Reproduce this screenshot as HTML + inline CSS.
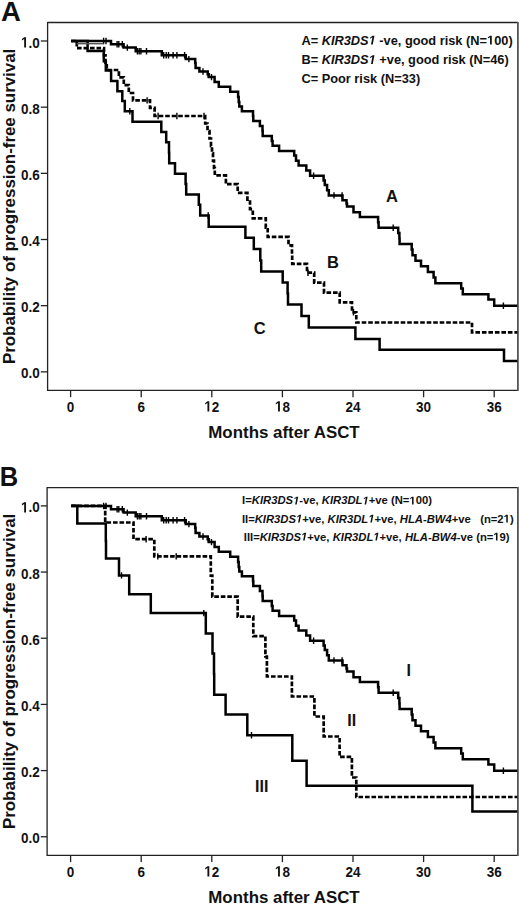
<!DOCTYPE html>
<html><head><meta charset="utf-8"><style>
html,body{margin:0;padding:0;background:#fff;}
svg{display:block;}
text{font-family:"Liberation Sans",sans-serif;fill:#111;}
.tl{font-size:13.5px;font-weight:bold;}
.ax{font-size:16.9px;font-weight:bold;}
.pl{font-size:27.5px;font-weight:bold;}
.lgA{font-size:12.8px;font-weight:bold;}
.lgB{font-size:11.25px;font-weight:bold;}
.cl{font-size:16.5px;font-weight:bold;}
.cl2{font-size:16px;font-weight:bold;}
.one{fill-opacity:0;}
</style></head><body>
<svg width="520" height="904" viewBox="0 0 520 904">
<path d="M47.6 22.5H517.9M47.6 390.4H517.9M47.6 21.9V391.0" stroke="#222" stroke-width="1.3" fill="none"/>
<path d="M517.9 21.9V391.0" stroke="#555" stroke-width="1.8" fill="none"/>
<line x1="40.8" y1="41.00" x2="47.6" y2="41.00" stroke="#222" stroke-width="1.3"/>
<text transform="translate(39.8,47.50) scale(1,1.1)" text-anchor="end" class="tl"><tspan class="one">1</tspan>.0</text>
<line x1="40.8" y1="107.17" x2="47.6" y2="107.17" stroke="#222" stroke-width="1.3"/>
<text transform="translate(39.8,113.67) scale(1,1.1)" text-anchor="end" class="tl">0.8</text>
<line x1="40.8" y1="173.34" x2="47.6" y2="173.34" stroke="#222" stroke-width="1.3"/>
<text transform="translate(39.8,179.84) scale(1,1.1)" text-anchor="end" class="tl">0.6</text>
<line x1="40.8" y1="239.51" x2="47.6" y2="239.51" stroke="#222" stroke-width="1.3"/>
<text transform="translate(39.8,246.01) scale(1,1.1)" text-anchor="end" class="tl">0.4</text>
<line x1="40.8" y1="305.68" x2="47.6" y2="305.68" stroke="#222" stroke-width="1.3"/>
<text transform="translate(39.8,312.18) scale(1,1.1)" text-anchor="end" class="tl">0.2</text>
<line x1="40.8" y1="371.85" x2="47.6" y2="371.85" stroke="#222" stroke-width="1.3"/>
<text transform="translate(39.8,378.35) scale(1,1.1)" text-anchor="end" class="tl">0.0</text>
<line x1="70.60" y1="390.4" x2="70.60" y2="397.2" stroke="#222" stroke-width="1.3"/>
<text transform="translate(70.60,411.5) scale(1,1.1)" text-anchor="middle" class="tl">0</text>
<line x1="141.20" y1="390.4" x2="141.20" y2="397.2" stroke="#222" stroke-width="1.3"/>
<text transform="translate(141.20,411.5) scale(1,1.1)" text-anchor="middle" class="tl">6</text>
<line x1="211.80" y1="390.4" x2="211.80" y2="397.2" stroke="#222" stroke-width="1.3"/>
<text transform="translate(211.80,411.5) scale(1,1.1)" text-anchor="middle" class="tl"><tspan class="one">1</tspan>2</text>
<line x1="282.40" y1="390.4" x2="282.40" y2="397.2" stroke="#222" stroke-width="1.3"/>
<text transform="translate(282.40,411.5) scale(1,1.1)" text-anchor="middle" class="tl"><tspan class="one">1</tspan>8</text>
<line x1="353.00" y1="390.4" x2="353.00" y2="397.2" stroke="#222" stroke-width="1.3"/>
<text transform="translate(353.00,411.5) scale(1,1.1)" text-anchor="middle" class="tl">24</text>
<line x1="423.60" y1="390.4" x2="423.60" y2="397.2" stroke="#222" stroke-width="1.3"/>
<text transform="translate(423.60,411.5) scale(1,1.1)" text-anchor="middle" class="tl">30</text>
<line x1="494.20" y1="390.4" x2="494.20" y2="397.2" stroke="#222" stroke-width="1.3"/>
<text transform="translate(494.20,411.5) scale(1,1.1)" text-anchor="middle" class="tl">36</text>
<text x="284" y="438" text-anchor="middle" class="ax">Months after ASCT</text>
<text transform="translate(15.2,206.4) rotate(-90)" text-anchor="middle" class="ax">Probability of progression-free survival</text>
<text transform="translate(1.0,21.4)" class="pl">A</text>
<text class="lgA"><tspan x="301.4" y="44.5">A= <tspan font-style="italic">KIR3DS<tspan class="one">1</tspan></tspan> -ve, good risk (N=<tspan class="one">1</tspan>00)</tspan><tspan x="301.4" y="64">B= <tspan font-style="italic">KIR3DS<tspan class="one">1</tspan></tspan> +ve, good risk (N=46)</tspan><tspan x="301.4" y="83.3">C= Poor risk (N=33)</tspan></text>
<path d="M71.2 41.0H111.0V44.3H123.6V47.6H135.7V51.3H161.8V55.2H185.8V59.1H195.2V63.1H195.6V68.0H199.4V71.5H207.7V74.2H208.8V77.1H214.6V81.9H218.8V86.7H230.2V91.7H238.1V97.0H238.7V101.9H239.3V106.5H241.9V111.2H253.0V115.9H253.3V121.1H259.9V126.1H262.5V131.0H262.7V136.1H271.8V141.0H272.6V145.7H279.1V150.9H294.2V155.6H296.0V160.8H298.6V165.4H306.3V170.6H310.1V175.8H323.6V180.4H324.8V185.0H327.1V190.2H328.8V195.4H342.5V200.3H346.5V203.4H347.0V206.5H353.5V212.3H359.9V216.9H378.1V222.3H378.6V227.7H398.2V233.1H399.4V238.5H399.6V244.0H411.7V249.6H412.5V255.2H415.5V260.8H421.0V266.3H427.9V272.1H433.6V277.5H435.4V283.2H461.2V288.6H462.8V294.2H488.4V299.5H494.2V305.8H517.3" fill="none" stroke="#000" stroke-width="2.5" stroke-linejoin="miter" stroke-linecap="butt"/><path d="M103.6 37.8V44.2M106.0 37.8V44.2M117.1 41.1V47.5M118.8 41.1V47.5M122.3 41.1V47.5M127.3 44.4V50.8M137.4 48.1V54.5M139.2 48.1V54.5M140.9 48.1V54.5M146.5 48.1V54.5M163.7 52.0V58.4M166.2 52.0V58.4M168.5 52.0V58.4M173.1 52.0V58.4M176.9 52.0V58.4M184.6 52.0V58.4M188.9 55.9V62.3M203.0 68.3V74.7M208.3 71.0V77.4M211.5 73.9V80.3M313.6 172.6V179.0M334.0 192.2V198.6M342.1 192.2V198.6M393.2 224.5V230.9M503.4 302.6V309.0" stroke="#000" stroke-width="1.4"/><path d="M71.2 41.0H76.8V48.2H104.0V55.4H105.5V62.6H106.8V70.0H118.9V77.4H123.8V85.2H128.8V93.0H133.0V100.4H150.0V107.9H154.6V116.0H205.2V123.5H207.5V131.0H209.5V138.5H211.0V146.0H212.0V153.3H213.0V160.6H214.0V168.0H214.8V175.4H225.9V184.2H237.7V192.8H247.4V201.5H250.0V209.2H252.8V218.4H265.8V227.7H267.7V236.9H288.5V245.4H292.0V254.6H292.2V263.9H307.0V272.7H314.2V282.7H324.0V292.7H339.7V302.4H352.0V312.3H356.3V322.5H472.0V332.3H517.3" fill="none" stroke="#000" stroke-width="2.7" stroke-dasharray="4.6 1.9" stroke-linejoin="miter"/><path d="M147.1 97.2V103.6M158.1 112.8V119.2M176.9 112.8V119.2M204.0 112.8V119.2M308.0 269.5V275.9M353.5 309.1V315.5" stroke="#000" stroke-width="1.4"/><path d="M71.2 41.0H87.6V51.1H103.8V61.3H105.8V70.6H111.1V81.1H117.4V91.2H122.3V101.1H124.8V111.3H132.5V121.8H161.3V131.9H166.2V142.3H169.0V152.7H169.2V163.2H175.0V173.8H185.6V184.0H186.2V194.4H198.8V204.8H200.2V215.5H208.7V226.7H245.4V237.7H253.8V248.9H260.3V260.4H261.2V271.5H282.7V282.4H287.6V293.4H288.0V304.5H301.5V315.9H308.8V327.4H355.4V338.9H379.6V349.8H504.0V360.9H517.3" fill="none" stroke="#000" stroke-width="2.5" stroke-linejoin="miter" stroke-linecap="butt"/><path d="M129.8 108.1V114.5M208.2 212.3V218.7" stroke="#000" stroke-width="1.4"/><path d="M76.6 43.7H103.5" stroke="#555" stroke-width="1.4"/><text x="386" y="201.9" class="cl">A</text><text x="327" y="267.6" class="cl">B</text><text x="253.7" y="334.4" class="cl">C</text>
<path d="M47.1 487.7H517.9M47.1 855.3H517.9M47.1 487.09999999999997V855.9" stroke="#222" stroke-width="1.3" fill="none"/>
<path d="M517.9 487.09999999999997V855.9" stroke="#555" stroke-width="1.8" fill="none"/>
<line x1="40.8" y1="505.90" x2="47.1" y2="505.90" stroke="#222" stroke-width="1.3"/>
<text transform="translate(39.8,512.40) scale(1,1.1)" text-anchor="end" class="tl"><tspan class="one">1</tspan>.0</text>
<line x1="40.8" y1="572.07" x2="47.1" y2="572.07" stroke="#222" stroke-width="1.3"/>
<text transform="translate(39.8,578.57) scale(1,1.1)" text-anchor="end" class="tl">0.8</text>
<line x1="40.8" y1="638.24" x2="47.1" y2="638.24" stroke="#222" stroke-width="1.3"/>
<text transform="translate(39.8,644.74) scale(1,1.1)" text-anchor="end" class="tl">0.6</text>
<line x1="40.8" y1="704.41" x2="47.1" y2="704.41" stroke="#222" stroke-width="1.3"/>
<text transform="translate(39.8,710.91) scale(1,1.1)" text-anchor="end" class="tl">0.4</text>
<line x1="40.8" y1="770.58" x2="47.1" y2="770.58" stroke="#222" stroke-width="1.3"/>
<text transform="translate(39.8,777.08) scale(1,1.1)" text-anchor="end" class="tl">0.2</text>
<line x1="40.8" y1="836.75" x2="47.1" y2="836.75" stroke="#222" stroke-width="1.3"/>
<text transform="translate(39.8,843.25) scale(1,1.1)" text-anchor="end" class="tl">0.0</text>
<line x1="70.60" y1="855.3" x2="70.60" y2="862.0999999999999" stroke="#222" stroke-width="1.3"/>
<text transform="translate(70.60,876.5) scale(1,1.1)" text-anchor="middle" class="tl">0</text>
<line x1="141.20" y1="855.3" x2="141.20" y2="862.0999999999999" stroke="#222" stroke-width="1.3"/>
<text transform="translate(141.20,876.5) scale(1,1.1)" text-anchor="middle" class="tl">6</text>
<line x1="211.80" y1="855.3" x2="211.80" y2="862.0999999999999" stroke="#222" stroke-width="1.3"/>
<text transform="translate(211.80,876.5) scale(1,1.1)" text-anchor="middle" class="tl"><tspan class="one">1</tspan>2</text>
<line x1="282.40" y1="855.3" x2="282.40" y2="862.0999999999999" stroke="#222" stroke-width="1.3"/>
<text transform="translate(282.40,876.5) scale(1,1.1)" text-anchor="middle" class="tl"><tspan class="one">1</tspan>8</text>
<line x1="353.00" y1="855.3" x2="353.00" y2="862.0999999999999" stroke="#222" stroke-width="1.3"/>
<text transform="translate(353.00,876.5) scale(1,1.1)" text-anchor="middle" class="tl">24</text>
<line x1="423.60" y1="855.3" x2="423.60" y2="862.0999999999999" stroke="#222" stroke-width="1.3"/>
<text transform="translate(423.60,876.5) scale(1,1.1)" text-anchor="middle" class="tl">30</text>
<line x1="494.20" y1="855.3" x2="494.20" y2="862.0999999999999" stroke="#222" stroke-width="1.3"/>
<text transform="translate(494.20,876.5) scale(1,1.1)" text-anchor="middle" class="tl">36</text>
<text x="284" y="903" text-anchor="middle" class="ax">Months after ASCT</text>
<text transform="translate(15.2,671.4) rotate(-90)" text-anchor="middle" class="ax">Probability of progression-free survival</text>
<text transform="translate(-0.3,486.4) scale(0.93,1.03)" class="pl">B</text>
<text class="lgB"><tspan x="242.1" y="504.4">I=<tspan font-style="italic">KIR3DS<tspan class="one">1</tspan></tspan>-ve, <tspan font-style="italic">KIR3DL<tspan class="one">1</tspan></tspan>+ve (N=<tspan class="one">1</tspan>00)</tspan><tspan x="241.9" y="522.6">II=<tspan font-style="italic">KIR3DS<tspan class="one">1</tspan></tspan>+ve, <tspan font-style="italic">KIR3DL<tspan class="one">1</tspan></tspan>+ve, <tspan font-style="italic">HLA-BW4</tspan>+ve   (n=2<tspan class="one">1</tspan>)</tspan><tspan x="243.8" y="540.6">III=<tspan font-style="italic">KIR3DS<tspan class="one">1</tspan></tspan>+ve, <tspan font-style="italic">KIR3DL<tspan class="one">1</tspan></tspan>+ve, <tspan font-style="italic">HLA-BW4</tspan>-ve (n=<tspan class="one">1</tspan>9)</tspan></text>
<path d="M71.2 506.0H111.0V509.3H123.6V512.6H135.7V516.3H161.8V520.2H185.8V524.1H195.2V528.1H195.6V533.0H199.4V536.5H207.7V539.2H208.8V542.1H214.6V546.9H218.8V551.7H230.2V556.7H238.1V562.0H238.7V566.9H239.3V571.5H241.9V576.2H253.0V580.9H253.3V586.1H259.9V591.1H262.5V596.0H262.7V601.1H271.8V606.0H272.6V610.7H279.1V615.9H294.2V620.6H296.0V625.8H298.6V630.4H306.3V635.6H310.1V640.8H323.6V645.4H324.8V650.0H327.1V655.2H328.8V660.4H342.5V665.3H346.5V668.4H347.0V671.5H353.5V677.3H359.9V681.9H378.1V687.3H378.6V692.7H398.2V698.1H399.4V703.5H399.6V709.0H411.7V714.6H412.5V720.2H415.5V725.8H421.0V731.3H427.9V737.1H433.6V742.5H435.4V748.2H461.2V753.6H462.8V759.2H488.4V764.5H494.2V770.8H517.3" fill="none" stroke="#000" stroke-width="2.5" stroke-linejoin="miter" stroke-linecap="butt"/><path d="M103.6 502.8V509.2M106.0 502.8V509.2M117.1 506.1V512.5M118.8 506.1V512.5M122.3 506.1V512.5M127.3 509.4V515.8M137.4 513.1V519.5M139.2 513.1V519.5M140.9 513.1V519.5M146.5 513.1V519.5M163.7 517.0V523.4M166.2 517.0V523.4M168.5 517.0V523.4M173.1 517.0V523.4M176.9 517.0V523.4M184.6 517.0V523.4M188.9 520.9V527.3M203.0 533.3V539.7M208.3 536.0V542.4M211.5 538.9V545.3M313.6 637.6V644.0M334.0 657.2V663.6M342.1 657.2V663.6M393.2 689.5V695.9M503.4 767.6V774.0" stroke="#000" stroke-width="1.4"/><path d="M71.2 505.8H105.2V522.5H133.5V539.2H154.3V556.4H210.8V575.7H212.3V596.7H237.7V616.7H253.3V636.2H265.4V656.5H266.9V676.5H291.9V696.5H314.4V716.5H323.7V736.5H339.6V756.9H351.9V777.5H356.3V797.0H517.3" fill="none" stroke="#000" stroke-width="2.7" stroke-dasharray="4.6 1.9" stroke-linejoin="miter"/><path d="M146.1 536.0V542.4M157.8 553.2V559.6M176.2 553.2V559.6" stroke="#000" stroke-width="1.4"/><path d="M71.2 505.8H77.3V523.4H105.8V541.0H106.0V558.6H119.0V575.4H129.2V594.2H150.8V613.1H205.8V633.4H212.5V653.4H214.0V674.0H214.2V694.8H225.6V714.6H247.3V735.2H292.3V760.8H306.6V785.8H472.4V811.4H517.3" fill="none" stroke="#000" stroke-width="2.5" stroke-linejoin="miter" stroke-linecap="butt"/><path d="M121.5 572.2V578.6M203.8 609.9V616.3M251.5 732.0V738.4" stroke="#000" stroke-width="1.4"/><text x="406.5" y="675.7" class="cl2">I</text><text x="347.3" y="725.6" class="cl2">II</text><text x="255" y="791.7" class="cl2">III</text>
<path transform="matrix(1.0000,0.0000,0.0000,1.1000,39.800,47.500) translate(-18.773,0.000) scale(0.006592,-0.006592)" d="M478 0V1170L140 959V1180L493 1409H759V0Z" fill="#111"/>
<path transform="matrix(1.0000,0.0000,0.0000,1.1000,211.800,411.500) translate(-7.506,0.000) scale(0.006592,-0.006592)" d="M478 0V1170L140 959V1180L493 1409H759V0Z" fill="#111"/>
<path transform="matrix(1.0000,0.0000,0.0000,1.1000,282.400,411.500) translate(-7.506,0.000) scale(0.006592,-0.006592)" d="M478 0V1170L140 959V1180L493 1409H759V0Z" fill="#111"/>
<path transform="matrix(1.0000,0.0000,0.0000,1.0000,0.000,0.000) translate(368.619,44.500) scale(0.006250,-0.006250)" d="M380 0L604 1152L223 938L270 1180L666 1409H936L661 0Z" fill="#111"/>
<path transform="matrix(1.0000,0.0000,0.0000,1.0000,0.000,0.000) translate(487.041,44.500) scale(0.006250,-0.006250)" d="M478 0V1170L140 959V1180L493 1409H759V0Z" fill="#111"/>
<path transform="matrix(1.0000,0.0000,0.0000,1.0000,0.000,0.000) translate(368.619,64.000) scale(0.006250,-0.006250)" d="M380 0L604 1152L223 938L270 1180L666 1409H936L661 0Z" fill="#111"/>
<path transform="matrix(1.0000,0.0000,0.0000,1.1000,39.800,512.400) translate(-18.773,0.000) scale(0.006592,-0.006592)" d="M478 0V1170L140 959V1180L493 1409H759V0Z" fill="#111"/>
<path transform="matrix(1.0000,0.0000,0.0000,1.1000,211.800,876.500) translate(-7.506,0.000) scale(0.006592,-0.006592)" d="M478 0V1170L140 959V1180L493 1409H759V0Z" fill="#111"/>
<path transform="matrix(1.0000,0.0000,0.0000,1.1000,282.400,876.500) translate(-7.506,0.000) scale(0.006592,-0.006592)" d="M478 0V1170L140 959V1180L493 1409H759V0Z" fill="#111"/>
<path transform="matrix(1.0000,0.0000,0.0000,1.0000,0.000,0.000) translate(293.069,504.400) scale(0.005493,-0.005493)" d="M380 0L604 1152L223 938L270 1180L666 1409H936L661 0Z" fill="#111"/>
<path transform="matrix(1.0000,0.0000,0.0000,1.0000,0.000,0.000) translate(362.491,504.400) scale(0.005493,-0.005493)" d="M380 0L604 1152L223 938L270 1180L666 1409H936L661 0Z" fill="#111"/>
<path transform="matrix(1.0000,0.0000,0.0000,1.0000,0.000,0.000) translate(409.413,504.400) scale(0.005493,-0.005493)" d="M478 0V1170L140 959V1180L493 1409H759V0Z" fill="#111"/>
<path transform="matrix(1.0000,0.0000,0.0000,1.0000,0.000,0.000) translate(295.994,522.600) scale(0.005493,-0.005493)" d="M380 0L604 1152L223 938L270 1180L666 1409H936L661 0Z" fill="#111"/>
<path transform="matrix(1.0000,0.0000,0.0000,1.0000,0.000,0.000) translate(368.244,522.600) scale(0.005493,-0.005493)" d="M380 0L604 1152L223 938L270 1180L666 1409H936L661 0Z" fill="#111"/>
<path transform="matrix(1.0000,0.0000,0.0000,1.0000,0.000,0.000) translate(503.634,522.600) scale(0.005493,-0.005493)" d="M478 0V1170L140 959V1180L493 1409H759V0Z" fill="#111"/>
<path transform="matrix(1.0000,0.0000,0.0000,1.0000,0.000,0.000) translate(301.019,540.600) scale(0.005493,-0.005493)" d="M380 0L604 1152L223 938L270 1180L666 1409H936L661 0Z" fill="#111"/>
<path transform="matrix(1.0000,0.0000,0.0000,1.0000,0.000,0.000) translate(373.269,540.600) scale(0.005493,-0.005493)" d="M380 0L604 1152L223 938L270 1180L666 1409H936L661 0Z" fill="#111"/>
<path transform="matrix(1.0000,0.0000,0.0000,1.0000,0.000,0.000) translate(493.331,540.600) scale(0.005493,-0.005493)" d="M478 0V1170L140 959V1180L493 1409H759V0Z" fill="#111"/>
</svg>
</body></html>
